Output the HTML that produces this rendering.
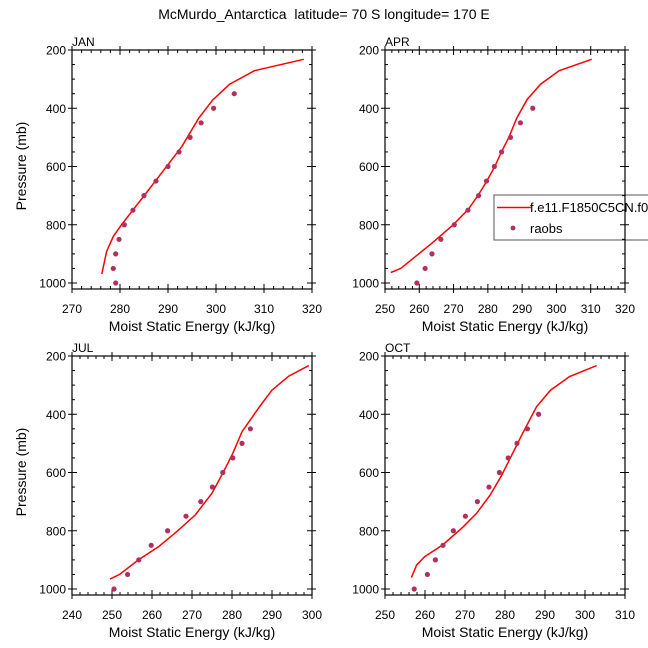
<!DOCTYPE html>
<html><head><meta charset="utf-8"><style>
html,body{margin:0;padding:0;background:#fff;}
svg{display:block;font-family:"Liberation Sans",sans-serif;}
</style></head><body>
<svg id="chart" width="648" height="648" xmlns="http://www.w3.org/2000/svg">
<text x="324" y="19" text-anchor="middle" font-size="14">McMurdo_Antarctica&#160; latitude= 70 S longitude= 170 E</text>
</svg>
<script>
const janLineX=[276.2,277.2,278.6,280.4,284.9,289.8,292.9,296.4,299.3,302.8,308,318.3];
const janLineP=[969,892,840,798,703,598,531,434,372,318,271,232];
const janObsX=[279.1,278.6,279.1,279.8,280.9,282.7,285.0,287.5,290,292.3,294.6,296.9,299.5,303.8];
const janObsP=[1000,950,900,850,800,750,700,650,600,550,500,450,400,350];
const aprLineX=[251.7,254.6,263.6,269.9,274.3,277.2,279.6,282.1,284,286.2,288.4,291.5,295.4,300.8,310.3];
const aprLineP=[964,950,864,800,747,698,652,598,549,498,434,369,317,271,232];
const aprObsX=[259.3,261.7,263.7,266.3,270.2,274.2,277.3,279.6,281.9,284.0,286.6,289.5,293.1];
const aprObsP=[1000,950,900,850,800,750,700,650,600,550,500,450,400];
const julLineX=[249.5,251.9,256.6,261.6,266.2,270.8,275,277.9,280.2,282.5,287.1,290,294.2,299.2];
const julLineP=[966,950,900,855,803,746,671,597,534,460,370,317,269,233];
const julObsX=[250.5,253.9,256.7,259.8,263.9,268.5,272.2,275.1,277.7,280.2,282.5,284.6];
const julObsP=[1000,950,900,850,800,750,700,650,600,550,500,450];
const octLineX=[256.6,257.9,259.9,264.4,269.6,272.9,276.3,279.2,281.7,284.2,287.9,291.4,296.1,302.9];
const octLineP=[961,918,889,849,786,740,677,609,540,471,374,317,271,233];
const octObsX=[257.3,260.6,262.6,264.5,267.1,270.1,273.1,276,278.6,280.8,283,285.6,288.4];
const octObsP=[1000,950,900,850,800,750,700,650,600,550,500,450,400];
const pTicks=[200,400,600,800,1000];
const janXTicks=[270,280,290,300,310,320];
const aprXTicks=[250,260,270,280,290,300,310,320];
const julXTicks=[240,250,260,270,280,290,300];
const octXTicks=[250,260,270,280,290,300,310];

const NS="http://www.w3.org/2000/svg";
const svg=document.getElementById('chart');
function mk(tag,attrs,parent){const e=document.createElementNS(NS,tag);for(const k in attrs)e.setAttribute(k,attrs[k]);(parent||svg).appendChild(e);return e;}

// legend first so the APR frame draws over it
const lg=mk('g',{});


mk('rect',{x:494,y:195,width:170,height:45,fill:'#fff',stroke:'#555','stroke-width':1},lg);
mk('line',{x1:497,y1:207.5,x2:531,y2:207.5,stroke:'#f00','stroke-width':1.5},lg);
const t1=mk('text',{x:530,y:212,'font-size':13},lg);t1.textContent='f.e11.F1850C5CN.f09';


mk('circle',{cx:513,cy:228,r:2.4,fill:'#b0305e'},lg);
const t2=mk('text',{x:530,y:233,'font-size':13},lg);t2.textContent='raobs';



function panel(key,label,x0,y0,xmin,xmax,xTicks,lx,lp,ox,op,showYTitle){
  const W=240,H=240,pmin=200;
  const g=mk('g',{});
  
  
  const sx=v=>x0+(v-xmin)/(xmax-xmin)*W;
  const sy=p=>y0+(p-pmin)*0.29125;
  const yb=y0+H-1;
  const fr=mk('rect',{x:x0,y:y0,width:W,height:yb-y0,fill:'none',stroke:'#000','stroke-width':1.2},g);
  
  
  for(let v=xmin;v<=xmax+1e-6;v+=2){
    const X=sx(v);const major=Math.abs((v-xmin)%10)<1e-6;
    const len=major?5:3;
    mk('line',{x1:X,y1:yb,x2:X,y2:yb-len,stroke:'#000','stroke-width':1},g);
    mk('line',{x1:X,y1:y0,x2:X,y2:y0+len,stroke:'#000','stroke-width':1},g);
    if(major){mk('line',{x1:X,y1:yb,x2:X,y2:yb+4,stroke:'#000'},g);mk('line',{x1:X,y1:y0,x2:X,y2:y0-4,stroke:'#000'},g);}
  }
  xTicks.forEach(v=>{const t=mk('text',{x:sx(v),y:yb+24,'text-anchor':'middle','font-size':12},g);t.textContent=v;
    
    });
  for(let p=200;p<=1000;p+=50){
    const Y=sy(p);const major=p%200===0;const len=major?5:3;
    mk('line',{x1:x0,y1:Y,x2:x0+len,y2:Y,stroke:'#000'},g);
    mk('line',{x1:x0+W,y1:Y,x2:x0+W-len,y2:Y,stroke:'#000'},g);
    if(major){mk('line',{x1:x0,y1:Y,x2:x0-4,y2:Y,stroke:'#000'},g);mk('line',{x1:x0+W,y1:Y,x2:x0+W+4,y2:Y,stroke:'#000'},g);}
  }
  pTicks.forEach(p=>{const t=mk('text',{x:x0-6,y:sy(p)+4.5,'text-anchor':'end','font-size':12},g);t.textContent=p;
    
    });
  const lb=mk('text',{x:x0,y:y0-4,'font-size':12},g);lb.textContent=label;
  
  
  const xt=mk('text',{x:x0+W/2,y:yb+42,'text-anchor':'middle','font-size':14},g);xt.textContent='Moist Static Energy (kJ/kg)';
  
  
  if(showYTitle){const yt=mk('text',{x:0,y:0,'text-anchor':'middle','font-size':14,transform:`translate(26,${y0+H/2-4}) rotate(-90)`},g);yt.textContent='Pressure (mb)';
    
    }
  const d=lx.map((v,i)=>(i?'L':'M')+sx(v).toFixed(1)+','+sy(lp[i]).toFixed(1)).join(' ');
  const ln=mk('path',{d:d,fill:'none',stroke:'#f00','stroke-width':1.5},g);
  
  
  ox.forEach((v,i)=>{const c=mk('circle',{cx:sx(v),cy:sy(op[i]),r:2.6,fill:'#b0305e'},g);
    
    });
}
panel('jan','JAN',72,50,270,320,janXTicks,janLineX,janLineP,janObsX,janObsP,true);
panel('apr','APR',385,50,250,320,aprXTicks,aprLineX,aprLineP,aprObsX,aprObsP,false);
panel('jul','JUL',72,356,240,300,julXTicks,julLineX,julLineP,julObsX,julObsP,true);
panel('oct','OCT',385,356,250,310,octXTicks,octLineX,octLineP,octObsX,octObsP,false);
</script>
</body></html>
